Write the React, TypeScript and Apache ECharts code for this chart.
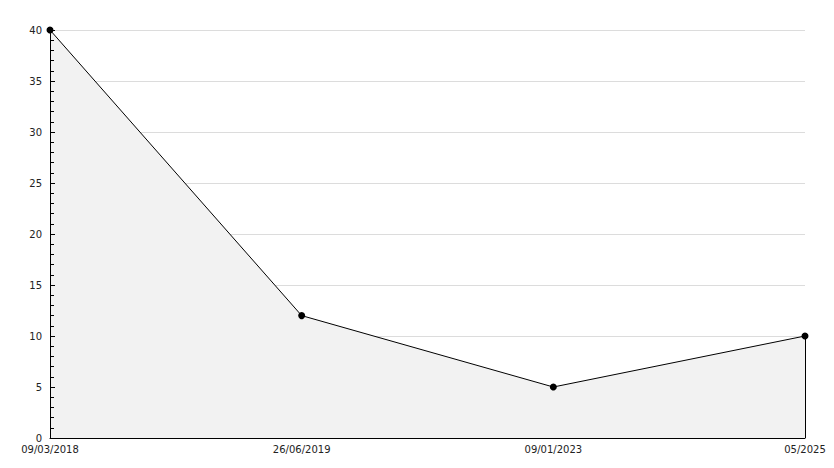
import React, { useEffect, useRef } from "react";
import * as echarts from "echarts";

const categories = ["09/03/2018", "26/06/2019", "09/01/2023", "05/2025"];
const values = [40, 12, 5, 10];
const yMin = 0;
const yMax = 40;
const yInterval = 5;

export default function App() {
  const ref = useRef<HTMLDivElement>(null);
  useEffect(() => {
    if (!ref.current) return;
    const chart = echarts.init(ref.current, undefined, { renderer: "svg" });
    const lastCat = categories[categories.length - 1];
    const lastVal = values[values.length - 1];
    const labelStyle = {
      color: "#222",
      fontFamily: "DejaVu Sans",
      fontSize: 10,
    };
    chart.setOption({
      animation: false,
      backgroundColor: "#ffffff",
      grid: { left: 50, right: 29, top: 30, bottom: 30, containLabel: false },
      xAxis: {
        type: "category",
        data: categories,
        boundaryGap: false,
        z: 5,
        axisLine: { show: true, lineStyle: { color: "#000", width: 1 } },
        axisTick: { show: false },
        axisLabel: { ...labelStyle, margin: 6, interval: 0 },
        splitLine: { show: false },
      },
      yAxis: [
        {
          type: "value",
          min: yMin,
          max: yMax,
          interval: yInterval,
          position: "left",
          z: 0,
          axisLine: { show: false },
          axisTick: { show: false },
          axisLabel: { show: false },
          splitLine: { show: true, lineStyle: { color: "#dcdcdc", width: 1 } },
        },
        {
          type: "value",
          min: yMin,
          max: yMax,
          interval: yInterval,
          position: "left",
          z: 5,
          axisLine: { show: true, onZero: false, lineStyle: { color: "#000", width: 1 } },
          axisTick: { show: true, inside: true, length: 5, lineStyle: { color: "#000" } },
          minorTick: { show: true, splitNumber: 5, length: 4, lineStyle: { color: "#000" } },
          axisLabel: { ...labelStyle, margin: 8, verticalAlign: "middle" },
          splitLine: { show: false },
        },
      ],
      series: [
        {
          type: "line",
          yAxisIndex: 0,
          data: values,
          symbol: "circle",
          symbolSize: 7,
          itemStyle: { color: "#000" },
          lineStyle: { color: "#000", width: 1 },
          areaStyle: { color: "#f2f2f2", opacity: 1 },
          markLine: {
            silent: true,
            symbol: "none",
            label: { show: false },
            lineStyle: { color: "#000", width: 1, type: "solid" },
            data: [
              [
                { coord: [lastCat, yMin] },
                { coord: [lastCat, lastVal] },
              ],
            ],
          },
        },
      ],
    });
    return () => chart.dispose();
  }, []);
  return (
    <div
      ref={ref}
      style={{ position: "absolute", left: 0, top: 0, width: 834, height: 468 }}
    />
  );
}
